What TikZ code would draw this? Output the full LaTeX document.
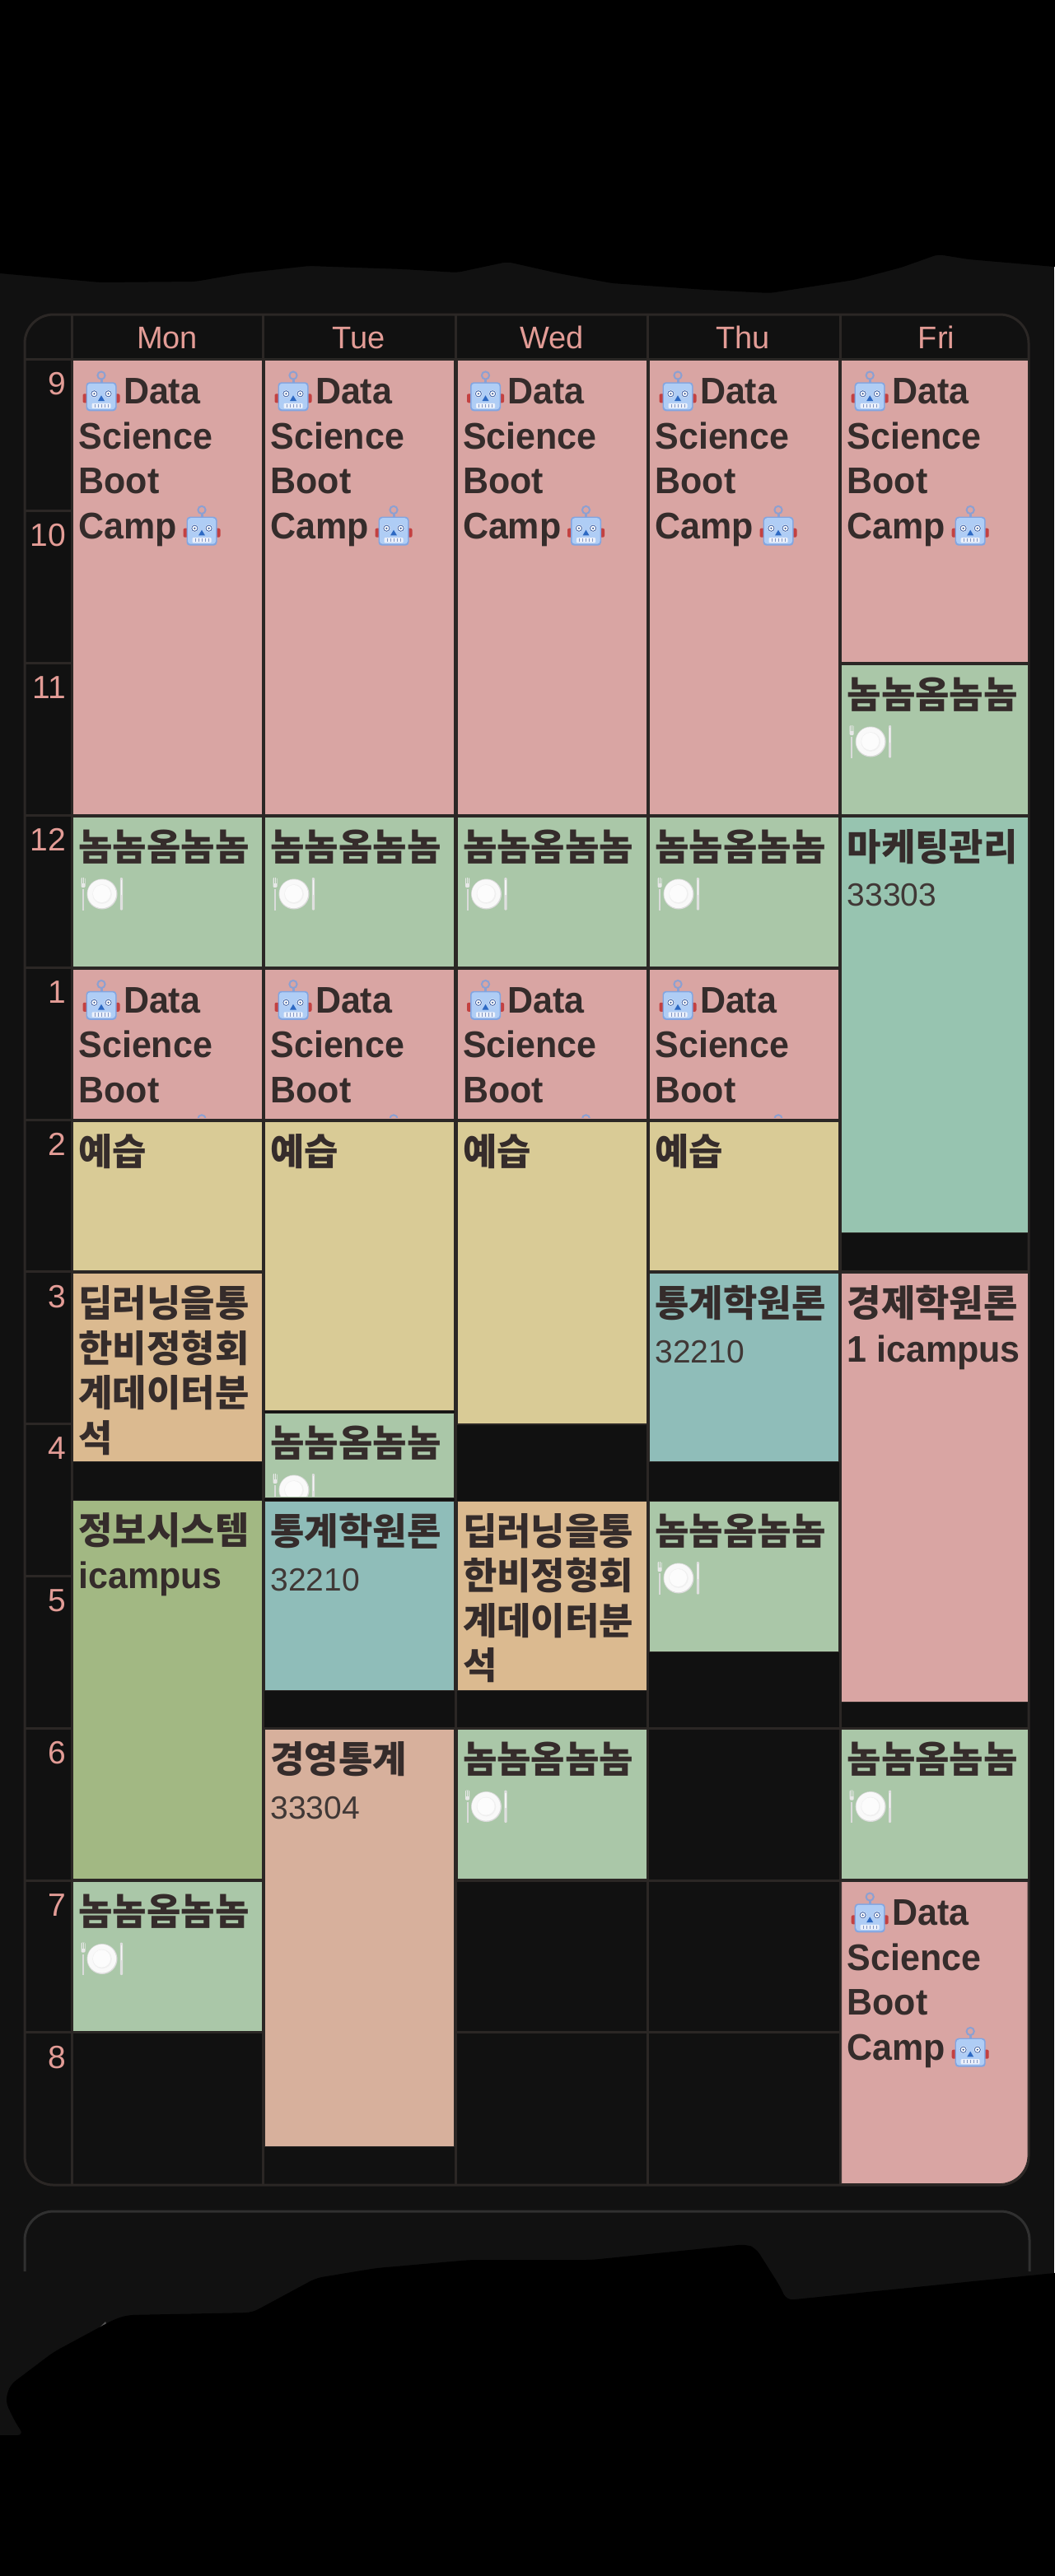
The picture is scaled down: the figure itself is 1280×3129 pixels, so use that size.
\documentclass[tikz,border=0pt]{standalone}
\usepackage{fontspec}
\setmainfont{Liberation Sans}
\newfontfamily\krfont{Noto Sans CJK KR}
\newfontfamily\latfont[FakeStretch=.955]{Liberation Sans}
\definecolor{bgc}{HTML}{111111}
\definecolor{gridc}{HTML}{2B2725}
\definecolor{panelc}{HTML}{303030}
\definecolor{hourc}{HTML}{E39C96}
\definecolor{inkc}{HTML}{352C2B}
\definecolor{roomc}{HTML}{403836}
\definecolor{pinkc}{HTML}{D9A5A3}
\definecolor{greenc}{HTML}{AAC7A8}
\definecolor{yellowc}{HTML}{D9CB96}
\definecolor{tanc}{HTML}{DBBA90}
\definecolor{olivec}{HTML}{A2B883}
\definecolor{tealc}{HTML}{8FBDB9}
\definecolor{mintc}{HTML}{97C4B0}
\definecolor{salmonc}{HTML}{D7B09C}
\definecolor{robedge}{RGB}{130,165,225}
\definecolor{robface}{RGB}{175,205,245}
\definecolor{robring}{RGB}{140,160,210}
\definecolor{robear}{RGB}{195,65,65}
\definecolor{robeye}{RGB}{75,110,175}
\definecolor{robpupil}{RGB}{60,90,150}
\definecolor{robnose}{RGB}{45,105,195}
\definecolor{robteeth}{RGB}{235,240,250}
\definecolor{robgap}{RGB}{130,150,195}
\tikzset{
  x=1pt,y=-1pt,
  evt/.style={rectangle,draw=gridc,line width=.8pt,inner sep=0pt,outer sep=0pt,anchor=north west},
  gridline/.style={draw=gridc,line width=3pt},
  txt/.style={anchor=base west,inner sep=0pt,outer sep=0pt,text=inkc},
  krtxt/.style={txt,font=\krfont\bfseries\fontsize{45}{54}\selectfont},
  lattxt/.style={txt,font=\latfont\bfseries\fontsize{45}{54}\selectfont},
  roomtxt/.style={txt,text=roomc,font=\fontsize{39}{46}\selectfont},
  hourtxt/.style={anchor=base east,inner sep=0pt,text=hourc,font=\fontsize{39}{46}\selectfont},
  daytxt/.style={anchor=base,inner sep=0pt,text=hourc,font=\fontsize{38}{46}\selectfont},
  robot/.pic={
    \fill[robear,rounded corners=2pt] (-22.5,3) rectangle (-15,14) (15,3) rectangle (22.5,14);
    \draw[draw=robring,line width=2pt] (0,-19.3) circle (4.6);
    \fill[robring] (-1.5,-15) rectangle (1.5,-10);
    \fill[rounded corners=4pt,fill=robedge] (-18.5,-11) rectangle (18.5,24);
    \fill[rounded corners=3.5pt,fill=robface] (-17,-9.5) rectangle (17,22);
    \foreach \s in {-8.6,8.6}{
      \fill[white] (\s,3) circle (4.6);
      \draw[draw=robeye,line width=1pt] (\s,3) circle (3.6);
      \fill[robpupil] (\s,3) circle (1.2);
    }
    \fill[robnose] (0,5) -- (-4,11.7) -- (4,11.7) -- cycle;
    \fill[rounded corners=1pt,fill=robteeth] (-11.5,14.5) rectangle (11.5,20.7);
    \foreach \s in {-8,-4,0,4,8}{\draw[draw=robgap,line width=.8pt] (\s,15.5) -- (\s,19.7);}
  },
  plate/.pic={
    \fill[white!72!gray] (0,0) circle (18.5);
    \fill[white!95!gray] (-.3,-.3) circle (17.4);
    \fill[white!88!gray] (0,0) circle (11.8);
    \fill[white!98!gray] (-.5,-.5) circle (10.6);
    \draw[draw=white!72!gray,line width=2pt] (-23,-6) -- (-23,19.5);
    \fill[white!82!gray,rounded corners=1.2pt] (-25.5,-20) rectangle (-20.5,-8);
    \draw[draw=greenc,line width=.5pt] (-23.9,-20) -- (-23.9,-13) (-22.1,-20) -- (-22.1,-13);
    \fill[white!75!gray,rounded corners=1pt] (21.8,-20) rectangle (25,19.5);
    \fill[white!92!gray] (22.8,-17) rectangle (24.1,1);
  }
}
% event box: name, colour, x0, y0, x1, y1
\newcommand{\evtbox}[6]{\node[evt,fill=#2,minimum width={(#5-#3)*1pt},minimum height={(#6-#4)*1pt}] (#1) at (#3,#4) {};}
% block "Data Science Boot Camp" : name, x0, y0, y1
\newcommand{\dsfull}[4]{%
  \pgfmathsetmacro\xend{#2+230}%
  \evtbox{#1}{pinkc}{#2}{#3}{\xend}{#4}
  \pic at ({#2+34.5},{#3+37.8}) {robot};
  \node[lattxt] (#1a) at ({#2+61.5},{#3+53}) {Data};
  \node[lattxt] (#1b) at ({#2+7},{#3+107.6}) {Science};
  \node[lattxt] (#1c) at ({#2+7},{#3+162.2}) {Boot};
  \node[lattxt] (#1d) at ({#2+7},{#3+216.8}) {Camp};
  \pic at ({#2+156.5},{#3+201.2}) {robot};
}
\newcommand{\dsshort}[4]{%
  \pgfmathsetmacro\xend{#2+230}%
  \evtbox{#1}{pinkc}{#2}{#3}{\xend}{#4}
  \pic at ({#2+34.5},{#3+37.8}) {robot};
  \node[lattxt] (#1a) at ({#2+61.5},{#3+53}) {Data};
  \node[lattxt] (#1b) at ({#2+7},{#3+107.6}) {Science};
  \node[lattxt] (#1c) at ({#2+7},{#3+162.2}) {Boot};
  \begin{scope}\clip (#2,#3) rectangle (\xend,{#4-2});
    \pic at ({#2+156.5},{#3+201.2}) {robot};
  \end{scope}
}
% block "nom" : name, x0, y0, y1
\newcommand{\nom}[4]{%
  \pgfmathsetmacro\xend{#2+230}%
  \evtbox{#1}{greenc}{#2}{#3}{\xend}{#4}
  \node[krtxt] (#1a) at ({#2+7},{#3+53}) {놈놈옴놈놈};
  \begin{scope}\clip (#2,#3) rectangle (\xend,{#4-2});
    \pic at ({#2+35.5},{#3+94}) {plate};
  \end{scope}
}
\begin{document}
\begin{tikzpicture}
\useasboundingbox (0,0) rectangle (1280,3129);
\fill[bgc] (0,0) rectangle (1280,3129);

% table frame and grid
\foreach \yy in {436,620.8,805.6,990.4,1175.2,1360,1544.8,1729.6,1914.4,2099.2,2284,2468.8}{
  \draw[gridline] (30,\yy) -- (1249,\yy);
}
\foreach \xx in {87,319.5,553,786.5,1020}{
  \draw[gridline] (\xx,382) -- (\xx,2654);
}
\draw[gridline,rounded corners=35pt] (30,382) rectangle (1249,2654);

% second panel
\draw[draw=panelc,line width=3pt,rounded corners=35pt] (30,2759) -- (30,2686) -- (1250,2686) -- (1250,2759);

% day names
\node[daytxt] (dMon) at (203,423) {Mon};
\node[daytxt] (dTue) at (436,423) {Tue};
\node[daytxt] (dWed) at (670,423) {Wed};
\node[daytxt] (dThu) at (902,423) {Thu};
\node[daytxt] (dFri) at (1137,423) {Fri};

% hours
\node[hourtxt] (h9) at (80,479) {9};
\node[hourtxt] (h10) at (80,663) {10};
\node[hourtxt] (h11) at (80,848) {11};
\node[hourtxt] (h12) at (80,1033) {12};
\node[hourtxt] (h1) at (80,1218) {1};
\node[hourtxt] (h2) at (80,1403) {2};
\node[hourtxt] (h3) at (80,1588) {3};
\node[hourtxt] (h4) at (80,1772) {4};
\node[hourtxt] (h5) at (80,1957) {5};
\node[hourtxt] (h6) at (80,2142) {6};
\node[hourtxt] (h7) at (80,2327) {7};
\node[hourtxt] (h8) at (80,2512) {8};

% Monday
\dsfull{monA}{88.5}{437.5}{989}
\nom{monB}{88.5}{992}{1174}
\dsshort{monC}{88.5}{1177}{1359}
\evtbox{monD}{yellowc}{88.5}{1362}{318.5}{1543.5}
\node[krtxt] (monDa) at (95.5,1415) {예습};
\evtbox{monE}{tanc}{88.5}{1546.5}{318.5}{1775}
\node[krtxt] (monEa) at (95.5,1599.5) {딥러닝을통};
\node[krtxt] (monEb) at (95.5,1654.1) {한비정형회};
\node[krtxt] (monEc) at (95.5,1708.7) {계데이터분};
\node[krtxt] (monEd) at (95.5,1763.3) {석};
\evtbox{monF}{olivec}{88.5}{1822}{318.5}{2282.5}
\node[krtxt] (monFa) at (95.5,1875) {정보시스템};
\node[lattxt] (monFb) at (95.5,1929.6) {icampus};
\nom{monG}{88.5}{2285.5}{2467.5}

% Tuesday
\dsfull{tueA}{321.5}{437.5}{989}
\nom{tueB}{321.5}{992}{1174}
\dsshort{tueC}{321.5}{1177}{1359}
\evtbox{tueD}{yellowc}{321.5}{1362}{551.5}{1713}
\node[krtxt] (tueDa) at (328.5,1415) {예습};
\nom{tueE}{321.5}{1716}{1819}
\evtbox{tueF}{tealc}{321.5}{1823}{551.5}{2053}
\node[krtxt] (tueFa) at (328.5,1876) {통계학원론};
\node[roomtxt] (tueFb) at (328.5,1932) {32210};
\evtbox{tueG}{salmonc}{321.5}{2100.5}{551.5}{2607}
\node[krtxt] (tueGa) at (328.5,2153.5) {경영통계};
\node[roomtxt] (tueGb) at (328.5,2209) {33304};

% Wednesday
\dsfull{wedA}{555}{437.5}{989}
\nom{wedB}{555}{992}{1174}
\dsshort{wedC}{555}{1177}{1359}
\evtbox{wedD}{yellowc}{555}{1362}{785}{1729}
\node[krtxt] (wedDa) at (562,1415) {예습};
\evtbox{wedE}{tanc}{555}{1823}{785}{2053}
\node[krtxt] (wedEa) at (562,1876) {딥러닝을통};
\node[krtxt] (wedEb) at (562,1930.6) {한비정형회};
\node[krtxt] (wedEc) at (562,1985.2) {계데이터분};
\node[krtxt] (wedEd) at (562,2039.8) {석};
\nom{wedF}{555}{2100.5}{2282.5}

% Thursday
\dsfull{thuA}{788.5}{437.5}{989}
\nom{thuB}{788.5}{992}{1174}
\dsshort{thuC}{788.5}{1177}{1359}
\evtbox{thuD}{yellowc}{788.5}{1362}{1018.5}{1543.5}
\node[krtxt] (thuDa) at (795.5,1415) {예습};
\evtbox{thuE}{tealc}{788.5}{1546.5}{1018.5}{1775}
\node[krtxt] (thuEa) at (795.5,1599.5) {통계학원론};
\node[roomtxt] (thuEb) at (795.5,1655) {32210};
\nom{thuF}{788.5}{1823}{2006}

% Friday
\evtbox{friA}{pinkc}{1021.7}{437.5}{1248}{804.5}
\pic at (1056.2,475.3) {robot};
\node[lattxt] (friAa) at (1083.2,490.5) {Data};
\node[lattxt] (friAb) at (1028.7,545.1) {Science};
\node[lattxt] (friAc) at (1028.7,599.7) {Boot};
\node[lattxt] (friAd) at (1028.7,654.3) {Camp};
\pic at (1178.2,638.7) {robot};
\evtbox{friB}{greenc}{1021.7}{807}{1248}{989}
\node[krtxt] (friBa) at (1028.7,860) {놈놈옴놈놈};
\pic at (1057.2,901) {plate};
\evtbox{friC}{mintc}{1021.7}{992}{1248}{1497}
\node[krtxt] (friCa) at (1028.7,1045) {마케팅관리};
\node[roomtxt] (friCb) at (1028.7,1100.5) {33303};
\evtbox{friD}{pinkc}{1021.7}{1546.5}{1248}{2067}
\node[krtxt] (friDa) at (1028.7,1599.5) {경제학원론};
\node[lattxt] (friDb) at (1028.7,1654.1) {1 icampus};
\evtbox{friE}{greenc}{1021.7}{2100.5}{1248}{2282.5}
\node[krtxt] (friEa) at (1028.7,2153.5) {놈놈옴놈놈};
\pic at (1057.2,2194.5) {plate};
\fill[pinkc,draw=gridc,line width=.8pt] (1021.7,2285.5) -- (1248,2285.5) -- (1248,2618) arc[start angle=0,end angle=90,radius=34.5] -- (1021.7,2652.5) -- cycle;
\pic at (1056.2,2323.3) {robot};
\node[lattxt] (friFa) at (1083.2,2338.5) {Data};
\node[lattxt] (friFb) at (1028.7,2393.1) {Science};
\node[lattxt] (friFc) at (1028.7,2447.7) {Boot};
\node[lattxt] (friFd) at (1028.7,2502.3) {Camp};
\pic at (1178.2,2486.7) {robot};

% masks
\fill[black,rounded corners=6pt] (0,-20) -- (1300,-20) -- (1300,326) -- (1280,324) -- (1176,315) -- (1139,309) -- (1094,325) -- (1037,340) -- (935,356) -- (857,352) -- (743,344) -- (678,332) -- (616,318) -- (555,331) -- (490,327) -- (375,323) -- (294,332) -- (237,342) -- (122,343) -- (33,335) -- (0,332) -- (-20,330) -- (-20,-20) -- cycle;
\fill[white!35!black] (128,2820) -- (113,2835) -- (130,2825) -- cycle;
\fill[black,rounded corners=8pt] (-20,3150) -- (1300,3150) -- (1300,2759) -- (1280,2761) -- (955,2794) -- (947,2777) -- (918,2731) -- (906,2726) -- (718,2745) -- (571,2745) -- (457,2755) -- (384,2767) -- (306,2809) -- (155,2812) -- (139,2817) -- (65,2857) -- (12,2897) -- (6.5,2917) -- (18,2941) -- (29,2958) -- (-20,2958) -- cycle;
\end{tikzpicture}
\end{document}
